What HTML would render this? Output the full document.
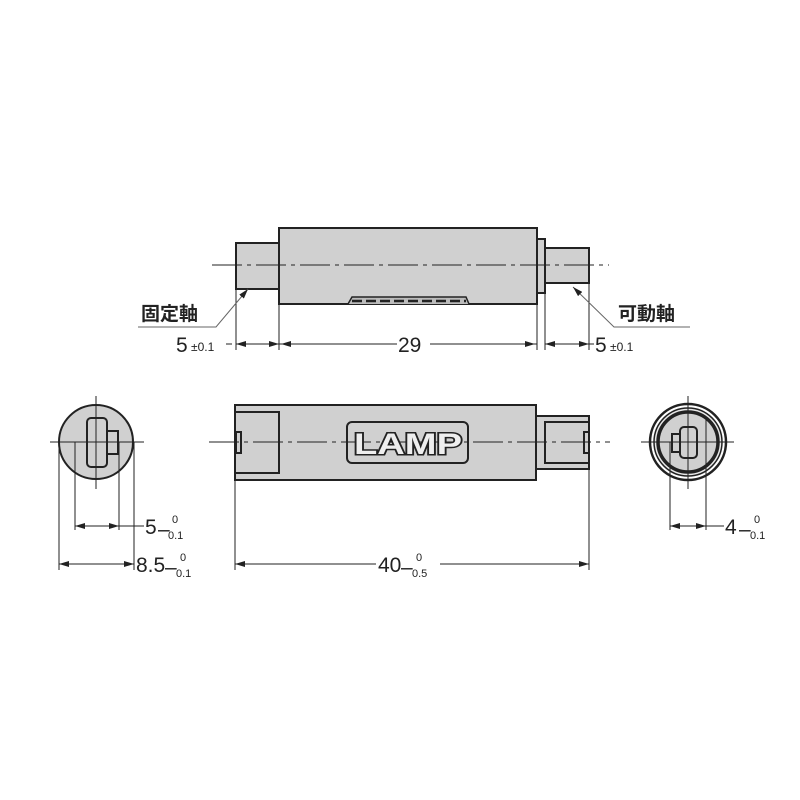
<!DOCTYPE html>
<html><head><meta charset="utf-8"><style>html,body{margin:0;padding:0;background:#fff}svg{display:block}</style></head>
<body>
<svg width="800" height="800" viewBox="0 0 800 800" xmlns="http://www.w3.org/2000/svg" font-family="Liberation Sans, Noto Sans CJK JP, sans-serif">
<defs>
<marker id="a" markerWidth="10" markerHeight="6" refX="10" refY="3" orient="auto-start-reverse" markerUnits="userSpaceOnUse"><path d="M0,0 L10,3 L0,6 z" fill="#222"/></marker>
</defs>
<g stroke="#222" stroke-width="2" fill="#d0d0d0">
<rect x="236" y="243" width="43" height="46"/>
<rect x="279" y="228" width="258" height="76"/>
<rect x="537" y="239" width="8" height="54"/>
<rect x="545" y="248" width="44" height="35"/>
<path d="M348,304 L352,297 L466,297 L469,304" fill="#bbb" stroke-width="1.5"/>
</g>
<path d="M352,301 H466" stroke="#222" stroke-width="2.5" stroke-dasharray="10,4"/>
<g stroke="#222" stroke-width="1" fill="none">
<path d="M212,265 H609" stroke-dasharray="30,5,4,5"/>
<path d="M236,289 V350 M279,304 V350 M537,304 V350 M545,293 V350 M589,283 V350"/>
<path d="M236,344 H279" marker-start="url(#a)" marker-end="url(#a)"/>
<path d="M279,344 H397 M430,344 H537" />
<path d="M281,344 H300" marker-start="url(#a)"/>
<path d="M515,344 H535" marker-end="url(#a)"/>
<path d="M545,344 H589" marker-start="url(#a)" marker-end="url(#a)"/>
<path d="M232,344 H226 M589,344 H594"/>
<path d="M138,327 H216 L248,289" stroke="#666" marker-end="url(#a)"/>
<path d="M690,327 H614 L573,287" stroke="#666" marker-end="url(#a)"/>
</g>
<g fill="#222" font-size="21">
<text x="176" y="352">5</text><text x="191" y="351" font-size="12">±0.1</text>
<text x="398" y="352">29</text>
<text x="595" y="352">5</text><text x="610" y="351" font-size="12">±0.1</text>
<text x="141" y="320" font-size="19" font-weight="bold">固定軸</text>
<text x="618" y="320" font-size="19" font-weight="bold">可動軸</text>
</g>
<g stroke="#222" stroke-width="2" fill="#d0d0d0">
<circle cx="96" cy="442" r="37"/>
<rect x="107" y="431" width="11" height="23" fill="none"/>
<rect x="87" y="418" width="20" height="49" rx="4" fill="none"/>
</g>
<g stroke="#222" stroke-width="1" fill="none">
<path d="M50,442 H144 M96,396 V489"/>
<path d="M75,442 V530 M119,442 V530 M59,442 V570 M134,442 V570"/>
<path d="M75,526 H119" marker-start="url(#a)" marker-end="url(#a)"/>
<path d="M119,526 H144"/>
<path d="M59,564 H134" marker-start="url(#a)" marker-end="url(#a)"/>
</g>
<g fill="#222">
<text x="145" y="534" font-size="21">5</text><text x="158" y="536" font-size="21">–</text><text x="172" y="523" font-size="11">0</text><text x="168" y="539" font-size="11">0.1</text>
<text x="136" y="572" font-size="21">8.5</text><text x="165" y="574" font-size="21">–</text><text x="180" y="561" font-size="11">0</text><text x="176" y="577" font-size="11">0.1</text>
</g>
<g stroke="#222" stroke-width="2" fill="#d0d0d0">
<rect x="235" y="405" width="301" height="75"/>
<rect x="536" y="416" width="53" height="53"/>
<rect x="235" y="412" width="44" height="61" fill="none"/>
<rect x="545" y="422" width="44" height="41" fill="none"/>
<rect x="236" y="432" width="5" height="21" fill="none"/>
<rect x="584" y="432" width="5" height="21" fill="none"/>
<rect x="347" y="422" width="121" height="41" rx="5" fill="none"/>
</g>
<g stroke="#222" stroke-width="1" fill="none">
<path d="M209,442 H610" stroke-dasharray="30,5,4,5"/>
<path d="M235,480 V570 M589,469 V570"/>
<path d="M235,564 H589" marker-start="url(#a)" marker-end="url(#a)"/>
</g>
<rect x="376" y="552" width="64" height="24" fill="#fff"/>
<text x="408" y="454" font-size="30" font-weight="bold" text-anchor="middle" fill="#eee" stroke="#222" stroke-width="3" paint-order="stroke" textLength="108" lengthAdjust="spacingAndGlyphs" font-family="Liberation Sans, sans-serif">LAMP</text>
<g fill="#222">
<text x="378" y="572" font-size="21">40</text><text x="401" y="574" font-size="21">–</text><text x="416" y="561" font-size="11">0</text><text x="412" y="577" font-size="11">0.5</text>
</g>
<g stroke="#222" fill="#fff">
<circle cx="688" cy="442" r="38" stroke-width="2.5"/>
<circle cx="688" cy="442" r="34" stroke-width="1.5" fill="#e8e8e8"/>
<circle cx="688" cy="442" r="30" stroke-width="3.5" fill="#d0d0d0"/>
<rect x="672" y="434" width="8" height="18" stroke-width="2" fill="none"/>
<rect x="680" y="427" width="17" height="31" rx="4" stroke-width="2" fill="none"/>
</g>
<g stroke="#222" stroke-width="1" fill="none">
<path d="M641,442 H734 M688,396 V489"/>
<path d="M670,442 V530 M706,418 V530"/>
<path d="M670,526 H706" marker-start="url(#a)" marker-end="url(#a)"/>
<path d="M706,526 H724"/>
</g>
<g fill="#222">
<text x="725" y="534" font-size="21">4</text><text x="739" y="536" font-size="21">–</text><text x="754" y="523" font-size="11">0</text><text x="750" y="539" font-size="11">0.1</text>
</g>
</svg>
</body></html>
